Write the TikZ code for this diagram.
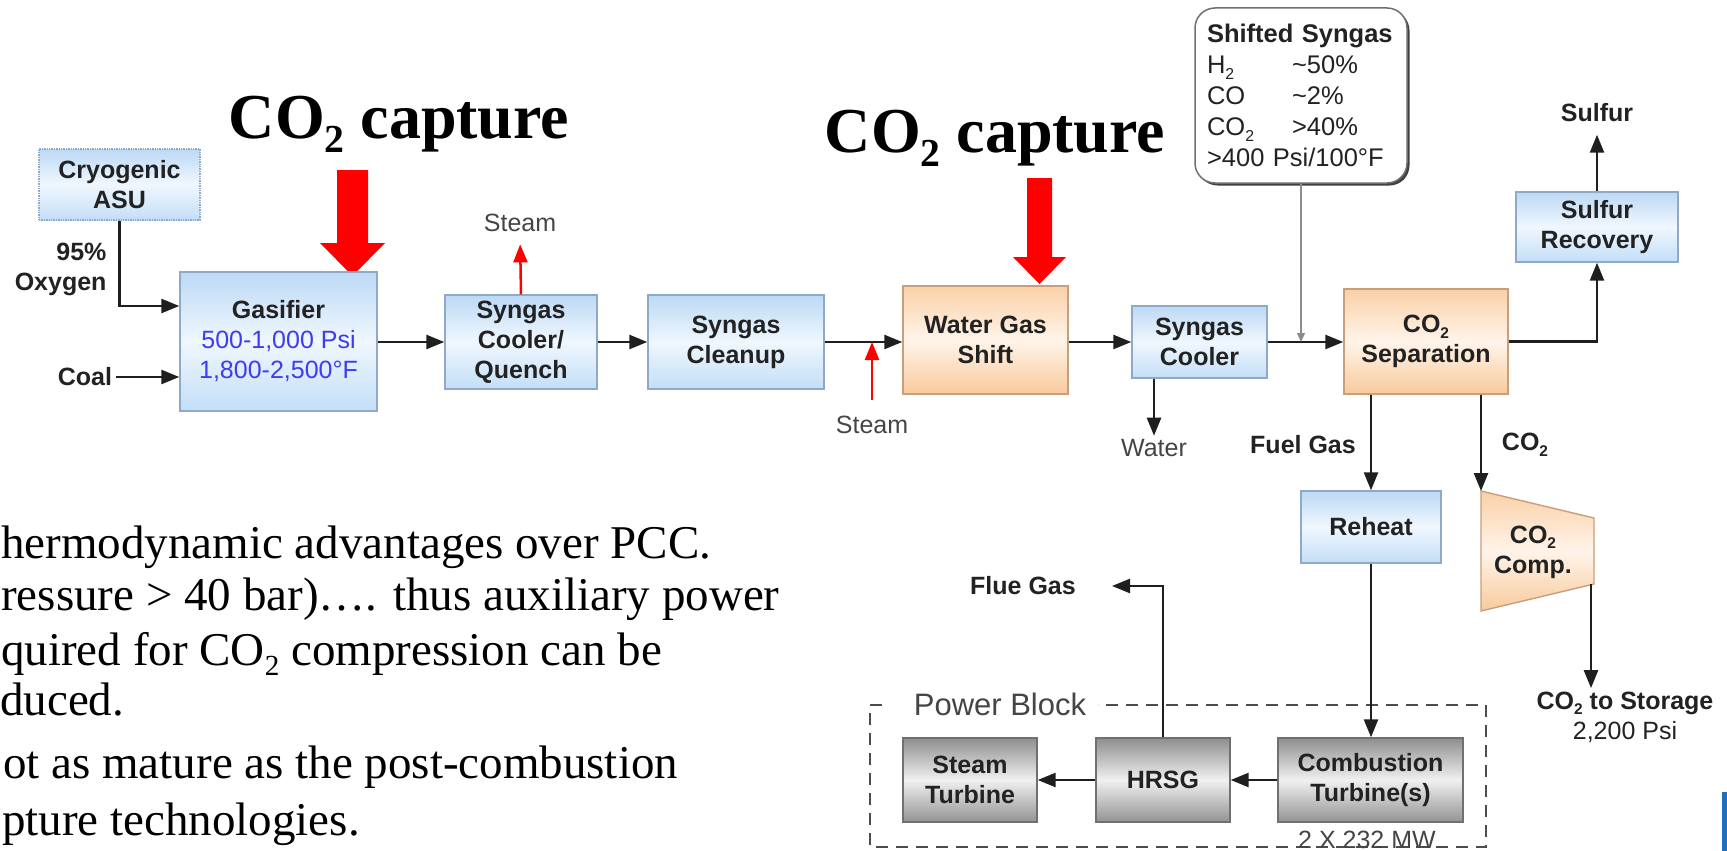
\documentclass[tikz,border=0pt]{standalone}
\usepackage{fontspec}
\setmainfont{Liberation Serif}
\newfontfamily\arial{Liberation Sans}
\usetikzlibrary{arrows.meta,calc,shadows}
\definecolor{blueA}{HTML}{BCD9F5}
\definecolor{blueB}{HTML}{F0F7FE}
\definecolor{blueC}{HTML}{C3DEF7}
\definecolor{bluebd}{HTML}{8FA9C6}
\definecolor{orA}{HTML}{FAD0A6}
\definecolor{orB}{HTML}{FFF4EA}
\definecolor{orC}{HTML}{F8CA9C}
\definecolor{orbd}{HTML}{C79F7C}
\definecolor{grA}{HTML}{8E8E8E}
\definecolor{grB}{HTML}{F0F0F0}
\definecolor{grC}{HTML}{939393}
\definecolor{grbd}{HTML}{707070}
\definecolor{txt}{HTML}{222222}
\definecolor{labgray}{HTML}{454545}
\definecolor{gasblue}{HTML}{3C3CF0}
\definecolor{capred}{HTML}{FF0000}
\definecolor{logoblue}{HTML}{1F6FC0}
\newcommand\boxfont{\arial\bfseries\fontsize{25}{30}\selectfont}
\newcommand\labfont{\arial\mdseries\fontsize{25}{30}\selectfont}
\newcommand\lowsub[1]{\raisebox{-0.22em}{\scalebox{0.62}{#1}}}
\tikzset{
  bbox/.style={draw=bluebd, line width=1.4pt, top color=blueA, bottom color=blueC, middle color=blueB,
    font=\boxfont, text=txt, align=center, inner sep=2pt},
  obox/.style={draw=orbd, line width=1.4pt, top color=orA, bottom color=orC, middle color=orB,
    font=\boxfont, text=txt, align=center, inner sep=2pt},
  gbox/.style={draw=grbd, line width=1.4pt, top color=grA, bottom color=grC, middle color=grB,
    font=\boxfont, text=txt, align=center, inner sep=2pt},
  flow/.style={line width=2.5pt, draw=black!88, -{Triangle[length=18pt,width=14pt]}},
  redflow/.style={line width=2.5pt, draw=capred, color=capred, -{Triangle[length=18pt,width=14pt]}},
  thinflow/.style={line width=1.2pt, draw=black!45, -{Triangle[length=9pt,width=8pt]}},
  lab/.style={font=\labfont, text=labgray},
  blab/.style={font=\boxfont, text=txt},
  pbline/.style={line width=2pt, draw=black!70, dash pattern=on 12pt off 8pt},
  bodytxt/.style={anchor=base west, inner sep=0pt, font=\fontsize{47}{52}\selectfont, text=black},
  captitle/.style={anchor=base, inner sep=0pt, font=\bfseries\fontsize{64}{70}\selectfont, text=black}
}
\begin{document}
\begin{tikzpicture}[x=1pt,y=-1pt]
\useasboundingbox (0,0) rectangle (1727,851);
\fill[white] (0,0) rectangle (1727,851);

% body text (as cut at the left edge)
\node[bodytxt] (t1) at (1,558) {hermodynamic advantages over PCC.};
\node[bodytxt] (t2) at (1,610) {ressure > 40 bar)…. thus auxiliary power};
\node[bodytxt] (t3) at (1,665) {quired for CO\lowsub{2} compression can be};
\node[bodytxt] (t4) at (0,715) {duced.};
\node[bodytxt] (t5) at (3,778) {ot as mature as the post-combustion};
\node[bodytxt] (t6) at (2,835) {pture technologies.};

% titles
\node[captitle] (cap1) at (399,138) {CO\lowsub{2} capture};
\node[captitle] (cap2) at (995,152) {CO\lowsub{2} capture};

% red capture arrows
\fill[capred] (337,170) -- (368,170) -- (368,243) -- (385,243) -- (352.5,276) -- (320,243) -- (337,243) -- cycle;
\fill[capred] (1027,178) -- (1052,178) -- (1052,257) -- (1066,257) -- (1039.5,284) -- (1013,257) -- (1027,257) -- cycle;

% power block
\draw[pbline] (882,705) -- (870,705) -- (870,847) -- (1486,847) -- (1486,705) -- (1098,705);
\node[lab, font=\arial\fontsize{31}{36}\selectfont] (pb) at (1000,704) {Power Block};
\node[lab] (mw) at (1367,840) {2 X 232 MW};

% boxes
\node[bbox, densely dotted, minimum width=161, minimum height=71] (asu) at (119.5,184.5) {Cryogenic\\ASU};
\node[bbox, minimum width=197, minimum height=139] (gas) at (278.5,341.5)
  {Gasifier\\{\labfont\color{gasblue}500-1,000 Psi}\\{\labfont\color{gasblue}1,800-2,500°F}};
\node[bbox, minimum width=152, minimum height=94] (quench) at (521,342) {Syngas\\Cooler/\\Quench};
\node[bbox, minimum width=176, minimum height=94] (clean) at (736,342) {Syngas\\Cleanup};
\node[obox, minimum width=165, minimum height=108] (wgs) at (985.5,340) {Water Gas\\Shift};
\node[bbox, minimum width=135, minimum height=72] (cool) at (1199.5,342) {Syngas\\Cooler};
\node[obox, minimum width=164, minimum height=105] (sep) at (1426,341.5) {CO\lowsub{2}\\Separation};
\node[bbox, minimum width=162, minimum height=70] (srec) at (1597,227) {Sulfur\\Recovery};
\node[bbox, minimum width=140, minimum height=72] (reheat) at (1371,527) {Reheat};
\node[gbox, minimum width=134, minimum height=84] (st) at (970,780) {Steam\\Turbine};
\node[gbox, minimum width=134, minimum height=84] (hrsg) at (1163,780) {HRSG};
\node[gbox, minimum width=185, minimum height=84] (ct) at (1370.5,780) {Combustion\\Turbine(s)};

\node[draw=grbd, line width=1.5pt, rounded corners=20pt, fill=white,
  drop shadow={shadow xshift=2.5pt, shadow yshift=-2.5pt, fill=black!75, opacity=1},
  minimum width=212, minimum height=175, text width=188, align=left,
  font=\arial\fontsize{25.5}{31}\selectfont, text=txt, inner xsep=12pt] (shift) at (1301,95.5)
  {\textbf{Shifted Syngas}\\
   \makebox[85pt][l]{H\lowsub{2}}\textasciitilde 50\%\\
   \makebox[85pt][l]{CO}\textasciitilde 2\%\\
   \makebox[85pt][l]{CO\lowsub{2}}>40\%\\
   >400 Psi/100°F};

% CO2 compressor (trapezoid)
\shade[top color=orA, bottom color=orC, middle color=orB, draw=orbd, line width=1.4pt]
  (1481,491) -- (1594,518) -- (1594,584) -- (1481,611) -- cycle;
\coordinate (compTL) at (1481,491);
\coordinate (compBR) at (1591,584);
\node[blab, align=center] (comp) at (1533,552) {CO\lowsub{2}\\Comp.};

% labels
\node[blab, anchor=east, align=right] (oxy) at (110,269.5) {95\%\\Oxygen};
\node[blab] (coal) at (85,377) {Coal};
\node[lab] (steam1) at (520,223) {Steam};
\node[lab] (steam2) at (872,425) {Steam};
\node[lab] (water) at (1154,448) {Water};
\node[blab] (sulfur) at (1597,113) {Sulfur};
\node[blab] (fuel) at (1303,445) {Fuel Gas};
\node[blab] (co2l) at (1525,445) {CO\lowsub{2}};
\node[blab] (flue) at (1023,586) {Flue Gas};
\node[font=\labfont, text=txt, align=center] (store) at (1625,717) {\textbf{CO\lowsub{2} to Storage}\\2,200 Psi};
\coordinate (fluetip) at (1112,586);

% connectors
\draw[flow] (asu.south) |- ($(gas.west)+(0,-35.5)$);
\draw[flow] (coal.east) -- (coal.east -| gas.west);
\draw[flow] (gas.east |- quench.west) -- (quench.west);
\draw[flow] (quench.east) -- (clean.west);
\draw[flow] (clean.east) -- (clean.east -| wgs.west);
\draw[redflow, shorten >=9pt] (quench.north) -- (steam1.south);
\draw[redflow, shorten <=13pt] (steam2.north) -- (steam2.north |- clean.east);
\draw[flow] (wgs.east |- cool.west) -- (cool.west);
\draw[flow] (cool.east) -- (cool.east -| sep.west);
\draw[thinflow] (shift.south) -- (shift.south |- cool.east);
\draw[flow] (cool.south -| water.north) -- (water.north);
\draw[flow] (sep.east) -| (srec.south);
\draw[flow, shorten >=9pt] (srec.north) -- (sulfur.south);
\draw[flow] (reheat.north |- sep.south) -- (reheat.north);
\draw[flow] (compTL |- sep.south) -- (compTL);
\draw[flow] (compBR) -- (compBR |- store.north);
\draw[flow] (reheat.south) -- (reheat.south |- ct.north);
\draw[flow] (ct.west) -- (hrsg.east);
\draw[flow] (hrsg.west) -- (st.east);
\draw[flow] (hrsg.north) |- (fluetip);

\fill[logoblue] (1722,792) rectangle (1727,851);
\end{tikzpicture}
\end{document}
